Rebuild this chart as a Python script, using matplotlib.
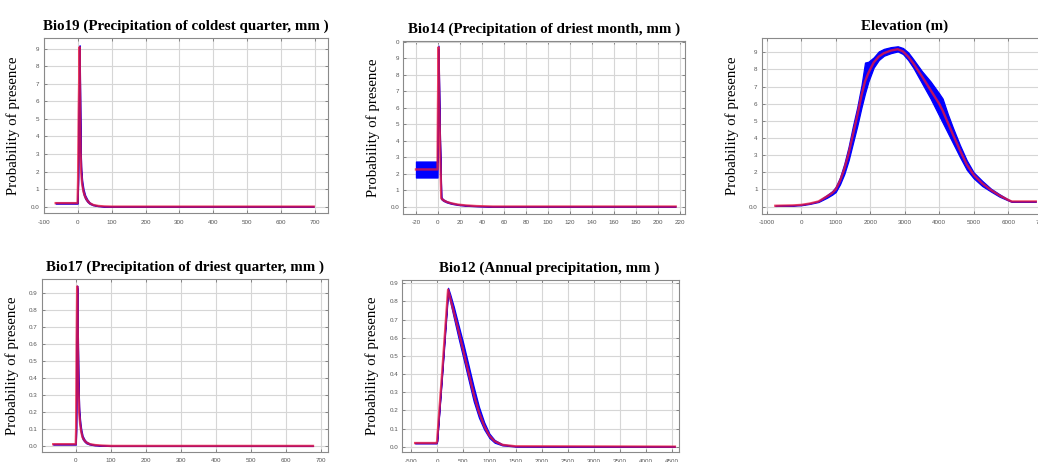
import numpy as np
import matplotlib
matplotlib.use("Agg")
import matplotlib.pyplot as plt

# ---- data ----
bio19_x = [-65, -0.5, 1, 3, 5.5, 7, 8.5, 10.5, 13, 17, 22, 28, 35, 45, 60, 80, 100, 696]
bio19_mid = [0.02, 0.02, 0.15, 0.55, 0.91, 0.6, 0.3, 0.19, 0.13, 0.085, 0.055, 0.035, 0.02, 0.01, 0.004, 0.001, 0.0, 0.0]
bio19_lo = [0.017, 0.017, 0.13, 0.52, 0.9, 0.57, 0.27, 0.16, 0.11, 0.07, 0.045, 0.028, 0.016, 0.008, 0.003, 0.0, 0.0, 0.0]
bio19_hi = [0.023, 0.023, 0.17, 0.58, 0.92, 0.63, 0.33, 0.21, 0.15, 0.1, 0.065, 0.042, 0.024, 0.012, 0.005, 0.002, 0.001, 0.001]

bio14_x = [-20, -0.4, 0, 0.5, 1.5, 3, 5, 8, 12, 18, 25, 35, 50, 216]
bio14_mid = [0.225, 0.225, 0.6, 0.965, 0.5, 0.05, 0.038, 0.028, 0.02, 0.012, 0.007, 0.003, 0.0, 0.0]
bio14_lo = [0.176, 0.176, 0.55, 0.955, 0.48, 0.045, 0.034, 0.025, 0.017, 0.01, 0.005, 0.002, 0.0, 0.0]
bio14_hi = [0.273, 0.273, 0.65, 0.975, 0.52, 0.056, 0.043, 0.032, 0.023, 0.014, 0.009, 0.004, 0.001, 0.001]

elev_x = [-750, -250, 0, 250, 500, 750, 900, 1000, 1125, 1250,
          1375, 1500, 1625, 1750, 1850, 1950, 2100, 2250, 2400, 2600,
          2800, 2950, 3100, 3250, 3500, 3750, 4000, 4100, 4250, 4400,
          4600, 4800, 5000, 5250, 5500, 5750, 6000, 6100, 6800]
elev_mid = [0.005, 0.007, 0.01, 0.018, 0.03, 0.06, 0.08, 0.1, 0.15, 0.22,
            0.31, 0.42, 0.53, 0.65, 0.73, 0.78, 0.84, 0.875, 0.895, 0.91,
            0.918, 0.905, 0.875, 0.835, 0.76, 0.68, 0.60, 0.56, 0.49, 0.42,
            0.33, 0.245, 0.185, 0.135, 0.097, 0.065, 0.039, 0.03, 0.03]
elev_lo = [0.004, 0.006, 0.008, 0.016, 0.027, 0.052, 0.07, 0.085, 0.13, 0.19,
           0.27, 0.37, 0.47, 0.58, 0.66, 0.73, 0.81, 0.855, 0.88, 0.895,
           0.905, 0.89, 0.855, 0.81, 0.72, 0.63, 0.53, 0.49, 0.43, 0.37,
           0.29, 0.215, 0.165, 0.12, 0.088, 0.058, 0.036, 0.028, 0.028]
elev_hi = [0.006, 0.008, 0.012, 0.02, 0.033, 0.068, 0.09, 0.115, 0.17, 0.25,
           0.35, 0.47, 0.58, 0.71, 0.84, 0.845, 0.87, 0.905, 0.92, 0.93,
           0.935, 0.925, 0.9, 0.86, 0.79, 0.73, 0.66, 0.63, 0.54, 0.46,
           0.36, 0.27, 0.2, 0.15, 0.105, 0.072, 0.042, 0.032, 0.032]

bio17_x = [-65, -0.5, 0.5, 2, 3.5, 5, 7, 9.5, 12, 15, 19, 25, 30, 40, 55, 75, 100, 678]
bio17_mid = [0.01, 0.01, 0.1, 0.6, 0.94, 0.7, 0.35, 0.19, 0.13, 0.085, 0.05, 0.03, 0.02, 0.01, 0.005, 0.002, 0.0, 0.0]
bio17_lo = [0.008, 0.008, 0.09, 0.57, 0.93, 0.67, 0.32, 0.16, 0.11, 0.07, 0.04, 0.024, 0.015, 0.008, 0.003, 0.001, 0.0, 0.0]
bio17_hi = [0.012, 0.012, 0.11, 0.63, 0.945, 0.73, 0.38, 0.21, 0.15, 0.1, 0.06, 0.036, 0.025, 0.013, 0.007, 0.003, 0.001, 0.001]

bio12_x = [-420, -10, 0, 100, 210, 250, 320, 400, 500, 600, 700, 800, 900, 1000, 1100, 1250, 1500, 4550]
bio12_mid = [0.02, 0.02, 0.03, 0.42, 0.865, 0.82, 0.74, 0.65, 0.53, 0.41, 0.29, 0.19, 0.115, 0.06, 0.03, 0.01, 0.002, 0.0]
bio12_lo = [0.018, 0.018, 0.028, 0.41, 0.85, 0.80, 0.71, 0.61, 0.49, 0.37, 0.25, 0.16, 0.095, 0.048, 0.022, 0.007, 0.001, 0.0]
bio12_hi = [0.022, 0.022, 0.032, 0.43, 0.875, 0.84, 0.77, 0.68, 0.57, 0.45, 0.33, 0.22, 0.135, 0.072, 0.037, 0.013, 0.003, 0.001]

titles = ["Bio19 (Precipitation of coldest quarter, mm )",
          "Bio14 (Precipitation of driest month, mm )",
          "Elevation (m)",
          "Bio17 (Precipitation of driest quarter, mm )",
          "Bio12 (Annual precipitation, mm )"]

cut_yticks = [0, 0.1, 0.2, 0.3, 0.4, 0.5, 0.6, 0.7, 0.8, 0.9]
cut_ylabels = ["0.0", "1", "2", "3", "4", "5", "6", "7", "8", "9"]
bio14_yticks = cut_yticks + [1.0]
bio14_ylabels = cut_ylabels + ["0"]
full_ylabels = ["0.0", "0.1", "0.2", "0.3", "0.4", "0.5", "0.6", "0.7", "0.8", "0.9"]

bio19_xticks = [-100, 0, 100, 200, 300, 400, 500, 600, 700]
bio14_xticks = list(range(-20, 221, 20))
elev_xticks = [-1000, 0, 1000, 2000, 3000, 4000, 5000, 6000, 7000]
bio17_xticks = [0, 100, 200, 300, 400, 500, 600, 700]
bio12_xticks = list(range(-500, 4501, 500))

W, H = 1038, 462
fig = plt.figure(figsize=(W / 100, H / 100), dpi=100)
fig.patch.set_facecolor("white")


def panel(box, x, mid, lo, hi, xlim, ylim, xticks, yticks, ylabels, title, title_dx=0):
    left, right, top, bottom = box
    ax = fig.add_axes([left / W, (H - bottom) / H, (right - left) / W, (bottom - top) / H])
    ax.fill_between(x, lo, hi, color="#0000ff", lw=0.9, edgecolor="#0000ff")
    ax.plot(x, mid, color="#e8163c", lw=1.7, alpha=0.8)
    ax.set_xlim(*xlim)
    ax.set_ylim(*ylim)
    ax.set_xticks(xticks)
    ax.set_xticklabels([str(v) for v in xticks])
    ax.set_yticks(yticks)
    ax.set_yticklabels(ylabels)
    ax.grid(True, color="#d6d6d6", lw=0.8)
    ax.set_axisbelow(True)
    for s in ax.spines.values():
        s.set_color("#8a8a8a")
        s.set_linewidth(0.8)
    ax.tick_params(direction="in", length=2.5, width=0.6, color="#777777",
                   top=True, right=True, labelsize=4.5, labelcolor="#555555")
    ax.tick_params(axis="x", pad=4.5)
    ax.tick_params(axis="y", pad=3)
    for lab in ax.get_xticklabels() + ax.get_yticklabels():
        lab.set_family("Liberation Sans")
    ax.set_title(title, family="Liberation Serif", fontweight="bold", fontsize=10.8,
                 pad=6, x=0.5 + title_dx)
    ax.set_ylabel("Probability of presence", family="Liberation Serif", fontsize=10.7)
    ax.yaxis.set_label_coords(-23 / (right - left), 0.5)
    return ax


panel((43.5, 328, 38.3, 213.3), bio19_x, bio19_mid, bio19_lo, bio19_hi,
      (-101, 738), (-0.038, 0.96), bio19_xticks, cut_yticks, cut_ylabels, titles[0])
panel((403.3, 685, 40.7, 214), bio14_x, bio14_mid, bio14_lo, bio14_hi,
      (-31.5, 224.5), (-0.045, 1.005), bio14_xticks, bio14_yticks, bio14_ylabels, titles[1])
panel((761.7, 1048, 37.7, 214), elev_x, elev_mid, elev_lo, elev_hi,
      (-1145, 7155), (-0.043, 0.985), elev_xticks, cut_yticks, cut_ylabels, titles[2])
panel((41.7, 328, 279, 451.7), bio17_x, bio17_mid, bio17_lo, bio17_hi,
      (-98, 721), (-0.034, 0.984), bio17_xticks, cut_yticks, full_ylabels, titles[3])
panel((402.3, 679, 280, 452.3), bio12_x, bio12_mid, bio12_lo, bio12_hi,
      (-666, 4628), (-0.031, 0.918), bio12_xticks, cut_yticks, full_ylabels, titles[4], 0.03)

fig.savefig("out.png", dpi=100)
